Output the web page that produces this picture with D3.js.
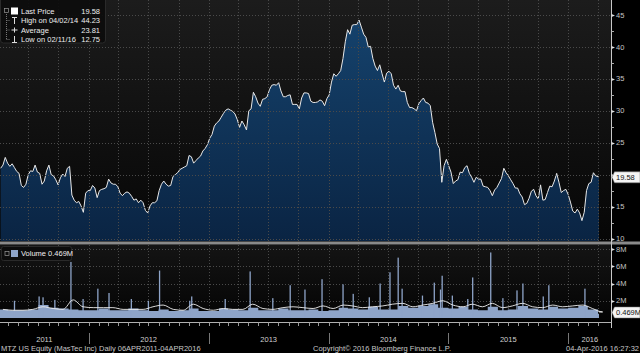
<!DOCTYPE html>
<html><head><meta charset="utf-8">
<script src="https://cdn.jsdelivr.net/npm/d3@7"></script>
<style>
html,body{margin:0;padding:0;background:#000;}
svg{display:block;}
text{font-family:"Liberation Sans",Arial,sans-serif;}
</style></head><body>
<svg id="c" width="640" height="353"></svg>
<script>
// ---------------- DATA ----------------
const domainStart = "2011-04-06";
const domainEnd = "2016-04-04";
const priceStart = "2011-04-08"; // weekly closes
const priceWeekly = [
21.0,21.5,22.7,21.8,21.3,21.7,21.1,20.5,20.2,18.3,
18.0,18.5,20.0,20.6,20.5,21.5,20.4,20.2,18.5,19.0,
20.6,21.5,20.0,19.8,19.2,18.4,19.5,20.1,19.7,21.0,
21.3,16.8,16.0,15.6,15.8,15.1,14.1,17.1,17.5,17.5,
18.3,17.9,16.4,17.5,17.7,17.8,18.0,19.3,18.7,18.5,
18.5,18.1,17.1,16.7,17.1,17.3,17.1,16.6,16.0,16.2,
15.6,16.0,15.6,14.4,14.0,15.1,15.6,15.6,15.9,17.5,
18.5,19.0,18.5,18.2,18.3,19.7,20.0,20.3,20.8,21.0,
21.2,21.4,23.0,22.8,21.8,22.2,22.6,22.9,23.7,24.1,
24.7,25.7,26.3,27.6,28.1,28.4,29.0,29.6,30.1,30.3,
30.1,29.9,29.5,28.6,27.4,28.4,27.8,27.0,30.0,30.3,
32.9,32.2,31.2,30.7,31.8,31.9,32.2,33.3,34.0,34.1,
34.0,34.4,33.1,32.2,32.2,32.4,32.5,31.0,31.0,31.0,
30.3,32.0,32.8,32.8,32.7,31.5,31.3,31.3,31.4,31.7,
31.5,30.8,31.9,32.5,34.5,35.8,35.4,35.8,36.3,38.2,
40.8,42.7,42.0,43.4,43.5,43.5,44.2,43.1,42.0,41.5,
40.0,40.1,38.2,37.0,36.3,37.2,35.8,34.5,35.9,36.2,
35.8,34.0,33.4,34.0,33.1,33.0,33.0,31.3,30.5,30.5,
30.3,30.0,31.1,31.6,32.0,31.3,31.2,30.8,28.2,26.6,
24.8,24.1,18.8,21.4,22.4,21.4,20.4,18.6,19.0,19.2,
20.4,20.3,21.1,21.4,20.2,19.6,18.8,19.6,19.3,19.3,
18.2,18.1,18.0,17.5,16.7,17.6,18.0,18.7,19.4,21.0,
20.3,19.8,19.2,18.6,17.9,17.9,17.0,16.5,15.3,15.5,
16.3,17.4,17.7,16.7,16.2,18.4,16.0,16.1,17.2,18.2,
18.1,19.0,20.2,18.8,17.2,17.5,17.7,16.9,15.7,14.3,
14.0,14.6,14.0,12.8,14.1,17.5,18.6,18.8,20.3,19.8,
19.7
];
const lastPrice = 19.58;
const priceTicks = [10,15,20,25,30,35,40,45];

const volMonthStart = "2011-04-01"; // monthly, in millions
const volBase = [
1.0,0.9,0.9,1.0,1.5,1.2,1.1,1.0,0.9,
0.9,1.1,0.9,0.9,1.1,0.9,0.8,1.0,0.8,0.9,1.1,0.8,
0.8,1.1,1.0,0.9,1.2,0.9,0.9,1.1,0.9,0.9,1.0,0.8,
0.9,1.2,1.1,1.0,1.3,1.0,1.0,1.4,1.2,1.4,1.6,1.2,
1.1,1.3,1.0,0.9,1.3,0.9,1.0,1.4,1.1,1.0,1.3,1.1,
1.2,1.4,1.0,0.5
];
const volMA = [
1.0,0.9,0.9,1.0,1.3,1.1,1.0,2.1,1.3,
1.2,1.2,1.2,1.0,1.0,1.0,1.3,1.5,1.0,0.9,1.6,1.1,
0.9,1.1,1.0,1.0,1.6,1.1,1.0,1.2,1.3,1.2,1.1,1.4,
1.1,1.5,1.4,1.2,1.3,1.4,1.6,1.7,1.3,1.5,1.7,2.0,
1.5,1.3,1.6,1.3,1.7,1.2,1.4,1.7,1.3,1.2,1.5,1.3,
1.4,1.5,1.1,0.7
];
const volSpikeDates = ["2011-05-20","2011-08-03","2011-08-15","2011-09-20","2011-11-08","2011-12-15","2012-01-29","2012-03-03","2012-05-10","2012-07-01","2012-08-04","2012-11-04","2012-11-10","2013-02-20","2013-05-07","2013-07-15","2013-09-06","2013-10-21","2013-12-12","2014-02-14","2014-03-17","2014-05-05","2014-06-07","2014-07-07","2014-08-01","2014-08-13","2014-10-14","2014-11-19","2014-12-08","2014-12-13","2015-01-13","2015-03-01","2015-03-16","2015-05-10","2015-06-16","2015-07-29","2015-08-16","2015-10-17","2015-11-03","2016-02-21"];
const volSpikeValues = [2.0,2.5,2.4,2.1,6.5,2.2,3.4,2.9,2.2,2.0,5.5,2.0,2.5,2.2,5.4,2.3,3.8,3.3,4.5,3.9,2.8,2.4,4.0,5.3,7.0,3.4,2.6,4.1,3.3,4.9,2.6,2.2,4.7,7.6,2.3,3.2,4.0,2.5,3.8,3.4];
const lastVolume = "0.469M";
const volTicks = [2,4,6,8];
const volTickLabels = ["2M","4M","6M","8M"];
const yearLabels = ["2011","2012","2013","2014","2015","2016"];
const legendLabels = ["Last Price","High on 04/02/14","Average","Low on 02/11/16"];
const legendValues = ["19.58","44.23","23.81","12.75"];
const footerLeft = "MTZ US Equity (MasTec Inc)";
const footerRange = "Daily 06APR2011-04APR2016";
const footerCopy = "Copyright\u00A9 2016 Bloomberg Finance L.P.";
const footerTime = "04-Apr-2016 16:27:32";

// ---------------- CHART ----------------
const parse = d3.utcParse("%Y-%m-%d");
const svg = d3.select("#c");
const W = 640, H = 353;
const axisX = 611.5;
const P = {top:0, bottom:241};
const V = {top:245, bottom:320};

const x = d3.scaleUtc().domain([parse(domainStart), parse(domainEnd)]).range([0, 599]);
const yP = d3.scaleLinear().domain([10,45]).range([238.5, 15]);
const yV = d3.scaleLinear().domain([0,8]).range([318, 249]);

const defs = svg.append("defs");
function grad(id, stops){
  const g = defs.append("linearGradient").attr("id",id).attr("x1",0).attr("y1",0).attr("x2",0).attr("y2",1);
  stops.forEach(s=>g.append("stop").attr("offset",s[0]).attr("stop-color",s[1]));
}
grad("bgP", [[0,"#1c1c1c"],[1,"#060606"]]);
grad("bgV", [[0,"#141414"],[1,"#040404"]]);
grad("area", [[0,"#15426c"],[1,"#0a2443"]]);
defs.append("clipPath").attr("id","clipP").append("rect").attr("x",0).attr("y",P.top).attr("width",axisX).attr("height",P.bottom-P.top);
defs.append("clipPath").attr("id","clipV").append("rect").attr("x",0).attr("y",V.top).attr("width",axisX).attr("height",V.bottom-V.top);

svg.append("rect").attr("width",W).attr("height",H).attr("fill","#000");
svg.append("rect").attr("x",0).attr("y",P.top).attr("width",axisX).attr("height",P.bottom-P.top).attr("fill","url(#bgP)");
svg.append("rect").attr("x",0).attr("y",V.top).attr("width",axisX).attr("height",V.bottom-V.top).attr("fill","url(#bgV)");

// price data
const pData = priceWeekly.map((v,i)=>({d:d3.utcDay.offset(parse(priceStart), 7*i), v}));
pData.push({d:parse(domainEnd), v:lastPrice});

const gP = svg.append("g").attr("clip-path","url(#clipP)");
gP.append("path").datum(pData)
  .attr("fill","url(#area)")
  .attr("d", d3.area().x(d=>x(d.d)).y0(P.bottom).y1(d=>yP(d.v)));

// grids
const quarters = d3.utcMonth.every(3).range(parse(domainStart), parse(domainEnd));
const gridStyle = sel => sel.attr("stroke","#4a4a4a").attr("stroke-width",1).attr("stroke-dasharray","1,2");
svg.append("g").selectAll("line").data(quarters).join("line")
  .attr("x1",d=>Math.round(x(d))+0.5).attr("x2",d=>Math.round(x(d))+0.5).attr("y1",P.top).attr("y2",P.bottom).call(gridStyle);
svg.append("g").selectAll("line").data(priceTicks).join("line")
  .attr("x1",0).attr("x2",axisX).attr("y1",d=>Math.round(yP(d))+0.5).attr("y2",d=>Math.round(yP(d))+0.5).call(gridStyle);

gP.append("path").datum(pData)
  .attr("fill","none").attr("stroke","#e8e8e8").attr("stroke-width",1)
  .attr("d", d3.line().x(d=>x(d.d)).y(d=>yP(d.v)));

// volume
svg.append("g").selectAll("line").data(quarters).join("line")
  .attr("x1",d=>Math.round(x(d))+0.5).attr("x2",d=>Math.round(x(d))+0.5).attr("y1",V.top).attr("y2",V.bottom).call(gridStyle);
svg.append("g").selectAll("line").data(volTicks).join("line")
  .attr("x1",0).attr("x2",axisX).attr("y1",d=>Math.round(yV(d))+0.5).attr("y2",d=>Math.round(yV(d))+0.5).call(gridStyle);

const gV = svg.append("g").attr("clip-path","url(#clipV)");
const vData = volBase.map((v,i)=>({d:d3.utcMonth.offset(parse(volMonthStart), i), v}));
vData[0].d = parse(domainStart);
vData.push({d:parse(domainEnd), v:volBase[volBase.length-1]});
gV.append("path").datum(vData).attr("fill","#8ea4c8")
  .attr("d", d3.area().curve(d3.curveStepAfter).x(d=>x(d.d)).y0(yV(0)).y1(d=>yV(d.v)));
const spikes = volSpikeDates.map((s,i)=>({d:parse(s), v:volSpikeValues[i]}));
gV.append("g").selectAll("rect").data(spikes).join("rect")
  .attr("x",d=>x(d.d)-0.6).attr("width",1.3)
  .attr("y",d=>yV(d.v)).attr("height",d=>yV(0)-yV(d.v)).attr("fill","#8ea4c8");
const maData = volMA.map((v,i)=>({d:d3.utcDay.offset(d3.utcMonth.offset(parse(volMonthStart), i),14), v}));
maData.push({d:parse(domainEnd), v:volMA[volMA.length-1]});
gV.append("path").datum(maData).attr("fill","none").attr("stroke","#f0f0f0").attr("stroke-width",0.9)
  .attr("d", d3.line().curve(d3.curveMonotoneX).x(d=>x(d.d)).y(d=>yV(d.v)));

// separator
svg.append("rect").attr("x",0).attr("y",241.5).attr("width",W).attr("height",3).attr("fill","#8a8a8a");

// right axis
svg.append("line").attr("x1",axisX).attr("x2",axisX).attr("y1",0).attr("y2",328).attr("stroke","#c8c8c8").attr("stroke-width",1);
const pMinor = d3.range(12.5, 45, 5);
svg.append("g").selectAll("line").data(pMinor).join("line")
  .attr("x1",axisX).attr("x2",axisX+2.5).attr("y1",d=>Math.round(yP(d))+0.5).attr("y2",d=>Math.round(yP(d))+0.5).attr("stroke","#aaa");
svg.append("g").selectAll("path").data(priceTicks).join("path")
  .attr("d",d=>{const y=Math.round(yP(d))+0.5; return `M${axisX},${y-1.5}L${axisX+3.5},${y}L${axisX},${y+1.5}Z`;}).attr("fill","#ddd");
// labels hidden behind the last-price tag are not drawn (as in the reference)
const visiblePriceTicks = priceTicks.filter(d=>Math.abs(yP(d)-yP(lastPrice))>8);
svg.append("g").selectAll("text").data(visiblePriceTicks).join("text")
  .attr("x",axisX+4.5).attr("y",d=>yP(d)).attr("dy","0.35em")
  .attr("font-size",7.5).attr("fill","#c4c4c4").text(d=>d);
svg.append("g").selectAll("path").data(volTicks).join("path")
  .attr("d",d=>{const y=Math.round(yV(d))+0.5; return `M${axisX},${y-1.5}L${axisX+3.5},${y}L${axisX},${y+1.5}Z`;}).attr("fill","#ddd");
svg.append("g").selectAll("text").data(volTicks).join("text")
  .attr("x",axisX+4.5).attr("y",d=>yV(d)).attr("dy","0.35em")
  .attr("font-size",7.5).attr("fill","#c4c4c4").text((d,i)=>volTickLabels[i]);

// value tags
function tag(yc, label){
  const g = svg.append("g");
  g.append("path").attr("d",`M${axisX+0.5},${yc} L${axisX+3},${yc-5.5} H640 V${yc+5.5} H${axisX+3} Z`)
    .attr("fill","#f4f4f4").attr("stroke","#777").attr("stroke-width",0.5);
  g.append("text").attr("x",axisX+4.5).attr("y",yc).attr("dy","0.35em").attr("font-size",7.5).attr("fill","#111").text(label);
}
tag(yP(lastPrice), legendValues[0]);
tag(312.5, lastVolume);

// bottom axis
svg.append("line").attr("x1",0).attr("x2",axisX).attr("y1",322.5).attr("y2",322.5).attr("stroke","#b0b0b0");
const months = d3.utcMonth.range(parse(domainStart), parse(domainEnd));
svg.append("g").selectAll("line").data(months).join("line")
  .attr("x1",d=>Math.round(x(d))+0.5).attr("x2",d=>Math.round(x(d))+0.5).attr("y1",322.5).attr("y2",326).attr("stroke","#999");
const yearStarts = d3.utcYear.range(parse(domainStart), parse(domainEnd));
svg.append("g").selectAll("line").data(yearStarts).join("line")
  .attr("x1",d=>Math.round(x(d))+0.5).attr("x2",d=>Math.round(x(d))+0.5).attr("y1",333).attr("y2",344).attr("stroke","#777");
svg.append("g").selectAll("text").data(yearLabels).join("text")
  .attr("x",(d,i)=>{const a=Math.max(0,x(parse(d+"-01-01"))); const b=Math.min(axisX, x(parse((+d+1)+"-01-01"))); return (a+b)/2;})
  .attr("y",341.5).attr("text-anchor","middle").attr("font-size",7.5).attr("fill","#d0d0d0").text(d=>d);

// footer
const fy = 350.5;
svg.append("text").attr("x",1).attr("y",fy).attr("font-size",7.5).attr("fill","#c8c8c8").text(footerLeft);
svg.append("text").attr("x",99).attr("y",fy).attr("font-size",7.5).attr("fill","#c8c8c8").text(footerRange);
svg.append("text").attr("x",313).attr("y",fy).attr("font-size",7.5).attr("fill","#c8c8c8").text(footerCopy);
svg.append("text").attr("x",639).attr("y",fy).attr("text-anchor","end").attr("font-size",7.5).attr("fill","#c8c8c8").text(footerTime);

// price legend
const lg = svg.append("g");
lg.append("rect").attr("x",0.5).attr("y",-3).attr("width",105).attr("height",46).attr("rx",3).attr("fill","#0c0c0c").attr("fill-opacity",0.92).attr("stroke","#2a2a2a");
const rowY = [11, 20.5, 30, 39.5];
lg.append("line").attr("x1",6.5).attr("x2",6.5).attr("y1",14).attr("y2",39.5).attr("stroke","#777").attr("stroke-dasharray","1,1");
[1,2,3].forEach(i=>lg.append("line").attr("x1",6.5).attr("x2",10).attr("y1",rowY[i]).attr("y2",rowY[i]).attr("stroke","#777").attr("stroke-dasharray","1,1"));
lg.append("rect").attr("x",4.5).attr("y",8.5).attr("width",4).attr("height",4).attr("fill","none").attr("stroke","#999").attr("stroke-width",0.7);
lg.append("rect").attr("x",11).attr("y",7.5).attr("width",7).attr("height",7).attr("fill","#fff");
lg.append("path").attr("d",`M12,${rowY[1]-3}H17M14.5,${rowY[1]-3}V${rowY[1]+3.5}`).attr("stroke","#ddd").attr("fill","none");
lg.append("path").attr("d",`M11.5,${rowY[2]}H17.5M14.5,${rowY[2]-2.5}V${rowY[2]+2.5}`).attr("stroke","#ddd").attr("fill","none");
lg.append("path").attr("d",`M12,${rowY[3]+3}H17M14.5,${rowY[3]+3}V${rowY[3]-3.5}`).attr("stroke","#ddd").attr("fill","none");
lg.selectAll("text.l").data(legendLabels).join("text").attr("class","l")
  .attr("x",21).attr("y",(d,i)=>rowY[i]).attr("dy","0.35em").attr("font-size",7.5).attr("fill","#eee").text(d=>d);
lg.selectAll("text.v").data(legendValues).join("text").attr("class","v")
  .attr("x",100).attr("y",(d,i)=>rowY[i]).attr("dy","0.35em").attr("text-anchor","end").attr("font-size",7.5).attr("fill","#eee").text(d=>d);

// volume legend
const vl = svg.append("g");
vl.append("rect").attr("x",1.5).attr("y",246.5).attr("width",70).attr("height",14).attr("rx",2).attr("fill","#0c0c0c").attr("stroke","#2a2a2a");
vl.append("rect").attr("x",5).attr("y",251.5).attr("width",4).attr("height",4).attr("fill","none").attr("stroke","#999").attr("stroke-width",0.7);
vl.append("rect").attr("x",11).attr("y",250).attr("width",7).attr("height",7).attr("fill","#8ea4c8");
vl.append("text").attr("x",21).attr("y",253.5).attr("dy","0.35em").attr("font-size",7.5).attr("fill","#eee").text("Volume  " + lastVolume);
</script>
</body></html>
